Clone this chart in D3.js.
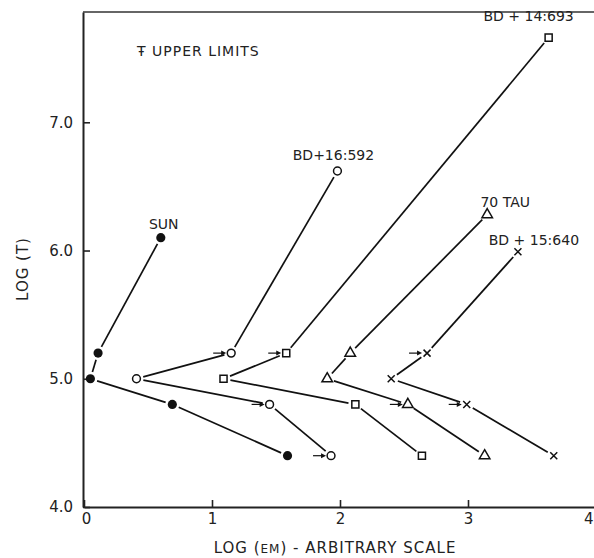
<!DOCTYPE html>
<html>
<head>
<meta charset="utf-8">
<script src="https://cdn.jsdelivr.net/npm/d3@7"></script>
<style>
  body { margin: 0; background: #fff; }
  svg { display: block; font-family: "DejaVu Sans", sans-serif; }
</style>
</head>
<body>
<div id="chart"></div>
<script>
// Data
const seriesNames = ["SUN", "BD+16:592", "BD + 14:693", "70 TAU", "BD + 15:640"];
const logEM = [
  [0.6, 0.11, 0.05, 0.69, 1.59],
  [1.98, 1.15, 0.41, 1.45, 1.93],
  [3.63, 1.58, 1.09, 2.12, 2.64],
  [3.15, 2.08, 1.9, 2.53, 3.13],
  [3.39, 2.68, 2.4, 2.99, 3.67]
];
const logT = [
  [6.1, 5.2, 5.0, 4.8, 4.4],
  [6.62, 5.2, 5.0, 4.8, 4.4],
  [7.66, 5.2, 5.0, 4.8, 4.4],
  [6.28, 5.2, 5.0, 4.8, 4.4],
  [5.99, 5.2, 5.0, 4.8, 4.4]
];
// 1 = point carries the "T upper limit" arrow
const upperLimit = [
  [0, 0, 0, 0, 0],
  [0, 1, 0, 1, 1],
  [0, 1, 0, 0, 0],
  [0, 0, 0, 1, 0],
  [0, 1, 0, 1, 0]
];
const xTicks = [0, 1, 2, 3, 4];
const yTicks = [4, 5, 6, 7];

(() => {
  const width = 594;
  const height = 558;
  const markers = ["dot", "circle", "square", "triangle", "cross"];
  const labelOffsets = [[3, -9], [-4, -11], [-20, -17], [18, -8], [16, -7]];
  const gap = 7;

  const svg = d3
    .select("#chart")
    .append("svg")
    .attr("width", width)
    .attr("height", height);

  const xScale = d3.scaleLinear().domain([0, 4]).range([84, 596]);
  const yScale = d3.scaleLinear().domain([4, 7.86]).range([507, 12]);

  // Axes with inward ticks
  const xAxis = svg
    .append("g")
    .attr("transform", `translate(0, ${yScale(4)})`)
    .call(
      d3
        .axisBottom(xScale)
        .tickValues(xTicks)
        .tickFormat(d3.format("d"))
        .tickSizeInner(-7)
        .tickSizeOuter(0)
        .tickPadding(6)
    );
  const yAxis = svg
    .append("g")
    .attr("transform", `translate(${xScale(0) - 1}, 0)`)
    .call(
      d3
        .axisLeft(yScale)
        .tickValues(yTicks)
        .tickFormat(d3.format(".1f"))
        .tickSizeInner(-7)
        .tickSizeOuter(0)
        .tickPadding(10)
    );
  [xAxis, yAxis].forEach((a) => {
    a.select(".domain").attr("stroke", "#222").attr("stroke-width", 2);
    a.selectAll(".tick line").attr("stroke", "#222").attr("stroke-width", 1.6);
    a.selectAll(".tick text")
      .attr("font-size", "15px")
      .attr("fill", "#222")
      .attr("font-family", "DejaVu Sans, sans-serif");
  });
  xAxis.select(".tick text").attr("dx", 2);
  // last label sits on the page edge, keep it inside
  xAxis
    .selectAll(".tick text")
    .filter((d) => d === 4)
    .attr("text-anchor", "end")
    .attr("dx", -3);

  // top frame line
  svg
    .append("line")
    .attr("x1", xScale(0) - 1)
    .attr("x2", width)
    .attr("y1", yScale(7.86))
    .attr("y2", yScale(7.86))
    .attr("stroke", "#333")
    .attr("stroke-width", 1.5);

  // Labels
  svg
    .append("text")
    .attr("x", 137)
    .attr("y", 56)
    .attr("font-size", "14px")
    .attr("letter-spacing", "1px")
    .attr("fill", "#222")
    .text("Ŧ UPPER LIMITS");

  svg
    .append("text")
    .attr("transform", "translate(28, 269) rotate(-90)")
    .attr("text-anchor", "middle")
    .attr("font-size", "15px")
    .attr("letter-spacing", "1px")
    .attr("fill", "#222")
    .text("LOG (T)");

  const xLabel = svg
    .append("text")
    .attr("x", 335)
    .attr("y", 553)
    .attr("text-anchor", "middle")
    .attr("font-size", "15px")
    .attr("letter-spacing", "1px")
    .attr("fill", "#222");
  xLabel.append("tspan").text("LOG (");
  xLabel.append("tspan").attr("font-size", "12px").text("EM");
  xLabel.append("tspan").text(") - ARBITRARY SCALE");

  // Series
  seriesNames.forEach((name, s) => {
    const pts = logEM[s].map((v, i) => ({
      px: xScale(v),
      py: yScale(logT[s][i]),
      lim: upperLimit[s][i]
    }));
    const g = svg.append("g");

    // connecting segments, stopped short of the markers
    d3.pairs(pts).forEach(([a, b]) => {
      const dx = b.px - a.px;
      const dy = b.py - a.py;
      const len = Math.hypot(dx, dy);
      const ux = dx / len;
      const uy = dy / len;
      g.append("line")
        .attr("x1", a.px + ux * gap)
        .attr("y1", a.py + uy * gap)
        .attr("x2", b.px - ux * gap)
        .attr("y2", b.py - uy * gap)
        .attr("stroke", "#111")
        .attr("stroke-width", 1.7);
    });

    // upper limit arrows
    pts
      .filter((d) => d.lim)
      .forEach((d) => {
        g.append("line")
          .attr("x1", d.px - 18)
          .attr("x2", d.px - 7)
          .attr("y1", d.py)
          .attr("y2", d.py)
          .attr("stroke", "#111")
          .attr("stroke-width", 1.2);
        g.append("path")
          .attr(
            "d",
            `M${d.px - 5},${d.py} L${d.px - 10},${d.py - 2.5} L${d.px - 10},${d.py + 2.5} Z`
          )
          .attr("fill", "#111");
      });

    // markers
    const kind = markers[s];
    const m = g
      .selectAll(".mark")
      .data(pts)
      .join("path")
      .attr("class", "mark")
      .attr("transform", (d) => `translate(${d.px}, ${d.py})`)
      .attr("stroke", "#111")
      .attr("stroke-width", 1.5);
    if (kind === "dot") {
      m.attr("d", d3.symbol(d3.symbolCircle, 66)()).attr("fill", "#111").attr("stroke", "none");
    } else if (kind === "circle") {
      m.attr("d", d3.symbol(d3.symbolCircle, 48)()).attr("fill", "#fff");
    } else if (kind === "square") {
      m.attr("d", d3.symbol(d3.symbolSquare, 50)()).attr("fill", "#fff");
    } else if (kind === "triangle") {
      m.attr("d", d3.symbol(d3.symbolTriangle, 48)()).attr("fill", "#fff");
    } else {
      m.attr("d", "M-3.5,-3.5L3.5,3.5M-3.5,3.5L3.5,-3.5").attr("fill", "none");
    }

    // star name above the top point
    const top = pts[0];
    g.append("text")
      .attr("x", top.px + labelOffsets[s][0])
      .attr("y", top.py + labelOffsets[s][1])
      .attr("text-anchor", "middle")
      .attr("font-size", "14px")
      .attr("fill", "#222")
      .text(name);
  });
})();
</script>
</body>
</html>
